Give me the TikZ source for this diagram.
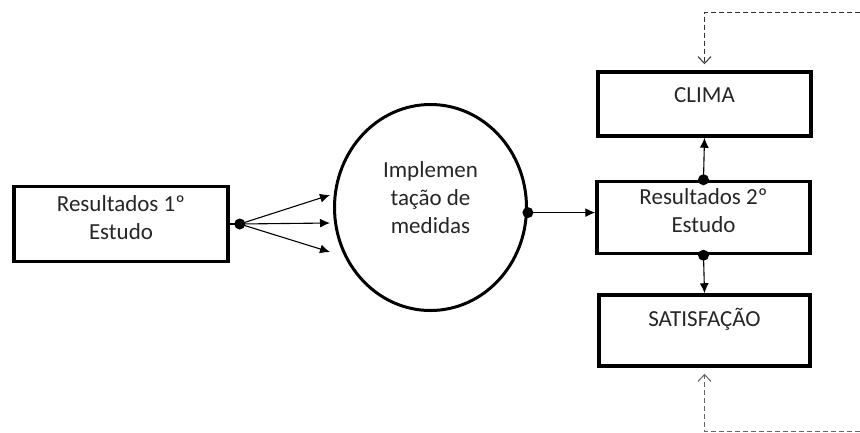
\documentclass[tikz,border=0pt]{standalone}
\usepackage{fontspec}
\setmainfont{Carlito}
\usetikzlibrary{shapes.geometric,arrows.meta}

\begin{document}
\begin{tikzpicture}[x=1pt, y=-1pt,
          box/.style={draw, line width=3.5pt, align=center, inner sep=0pt,
            font=\fontsize{23}{28}\selectfont, text=black!85},
          flow/.style={-{Latex[length=10pt,width=9pt]}, line width=1.1pt},
          back/.style={-{Straight Barb[length=7pt,width=13pt]}, line width=1pt,
            dash pattern=on 5pt off 3pt, shorten >=6pt},
          dot/.style={fill=black},
        ]
          \useasboundingbox (0,0) rectangle (860,432);
          \node[box, minimum width=214pt, minimum height=75pt, text depth=12pt] (res1) at (121,224) {Resultados 1º\\Estudo};
          \node[box, shape=ellipse, line width=3pt, minimum width=192pt, minimum height=206pt, text depth=20pt] (impl) at (430.5,207.5) {Implemen\\tação de\\medidas};
          \node[box, minimum width=213pt, minimum height=72pt, text depth=14pt] (res2) at (703.5,217.5) {Resultados 2º\\Estudo};
          \node[box, minimum width=213pt, minimum height=64pt, text depth=18pt] (clima) at (704.5,104) {CLIMA};
          \node[box, minimum width=211pt, minimum height=71pt, text depth=27pt] (sat) at (704.5,330.5) {SATISFAÇÃO};
          % saidas do 1o estudo
          \coordinate (split) at ([xshift=10pt]res1.east);
          \coordinate (in1) at (330,195);
          \coordinate (in2) at (330,223);
          \coordinate (in3) at (330,252);
          \draw[line width=1.1pt] (res1.east) -- (split);
          \draw[flow] (split) -- (in1);
          \draw[flow] (split) -- (in2);
          \draw[flow] (split) -- (in3);
          \fill[dot] (split) circle (5.5pt);
          % medidas -> 2o estudo
          \draw[flow] (impl.-3) -- (impl.-3 -| res2.west);
          \fill[dot] (impl.-3) circle (5.5pt);
          \draw[flow] (res2.north) -- (clima.south);
          \fill[dot] (res2.north) circle (5.5pt);
          \draw[flow] (res2.south) -- (sat.north);
          \fill[dot] (res2.south) circle (5.5pt);
          % retorno tracejado
          \coordinate (fbtop) at (860,12);
          \coordinate (fbbot) at (860,431);
          \draw[back, black!80] (fbtop) -| (clima.north);
          \draw[back, black!60] (fbbot) -| (sat.south);
        \end{tikzpicture}
\end{document}
